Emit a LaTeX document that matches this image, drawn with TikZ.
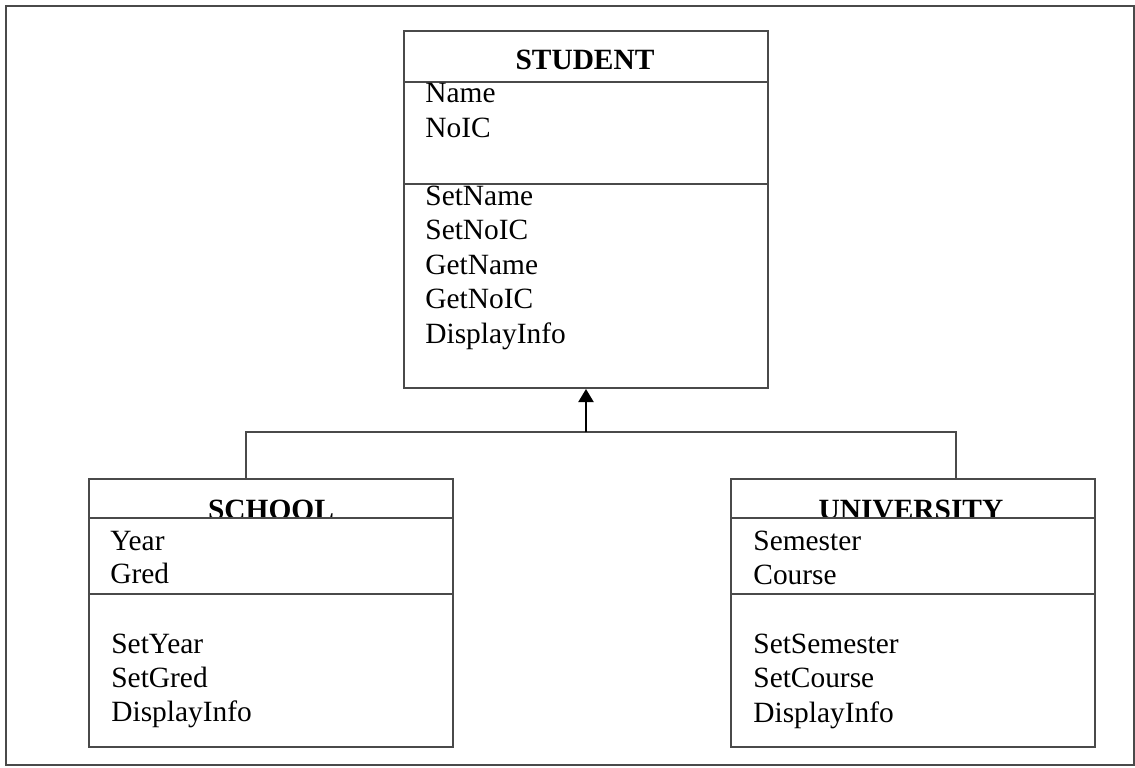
\documentclass[tikz,border=0pt]{standalone}
\usepackage{fontspec}
\setmainfont{Liberation Serif}
\usetikzlibrary{arrows.meta}

\definecolor{linegray}{HTML}{4A4A4A}
\newcommand{\umlfont}{\fontsize{14.7pt}{17pt}\selectfont}

\tikzset{
  classbox/.style={draw=linegray, line width=1pt, fill=white, minimum width=182pt, inner sep=0pt, anchor=north west},
  classname/.style={font=\umlfont\bfseries, anchor=base, inner sep=0pt},
  member/.style={font=\umlfont, anchor=base west, inner sep=0pt},
  link/.style={draw=linegray, line width=1pt},
}

\begin{document}
\begin{tikzpicture}[x=0.5pt, y=-0.5pt]
      \useasboundingbox (0,0) rectangle (1135,767);
      \draw[linegray, line width=1pt] (6,6) rectangle (1134,765);

      % student
      \node[classbox, minimum height=25.5pt] (student-head) at (403,30) {};
      \node[classname] (student-name) at (585,69) {STUDENT};
      \node[classbox, minimum height=51pt] (student-attr) at (403,81) {};
      \node[classbox, minimum height=102pt] (student-meth) at (403,183) {};
      \foreach \t [count=\i] in {Name,NoIC}
        \node[member] (student-a\i) at (425, {102+35*(\i-1)}) {\t};
      \foreach \t [count=\i] in {SetName,SetNoIC,GetName,GetNoIC,DisplayInfo}
        \node[member] (student-m\i) at (425, {205+34.5*(\i-1)}) {\t};

      % school
      \node[classbox, minimum height=19.5pt] (school-head) at (88,478) {};
      \node[classname] (school-name) at (271,519) {SCHOOL};
      \node[classbox, minimum height=38pt] (school-attr) at (88,517) {};
      \node[classbox, minimum height=76.5pt] (school-meth) at (88,593) {};
      \foreach \t [count=\i] in {Year,Gred}
        \node[member] (school-a\i) at (110, {550+33.5*(\i-1)}) {\t};
      \foreach \t [count=\i] in {SetYear,SetGred,DisplayInfo}
        \node[member] (school-m\i) at (111, {653+34*(\i-1)}) {\t};

      % university
      \node[classbox, minimum height=19.5pt] (univ-head) at (730,478) {};
      \node[classname] (univ-name) at (911,519) {UNIVERSITY};
      \node[classbox, minimum height=38pt] (univ-attr) at (730,517) {};
      \node[classbox, minimum height=76.5pt] (univ-meth) at (730,593) {};
      \foreach \t [count=\i] in {Semester,Course}
        \node[member] (univ-a\i) at (753, {550+34*(\i-1)}) {\t};
      \foreach \t [count=\i] in {SetSemester,SetCourse,DisplayInfo}
        \node[member] (univ-m\i) at (753, {653+34.5*(\i-1)}) {\t};

      % inheritance
      \coordinate (sj) at (246,432);
      \coordinate (uj) at (956,432);
      \draw[link] (school-head.north -| sj) -- (sj) -- (uj) -- (univ-head.north -| uj);
      \draw[line width=1pt, -{Triangle[length=6.5pt, width=7.5pt]}] (student-meth.south |- sj) -- (student-meth.south);
\end{tikzpicture}
\end{document}
